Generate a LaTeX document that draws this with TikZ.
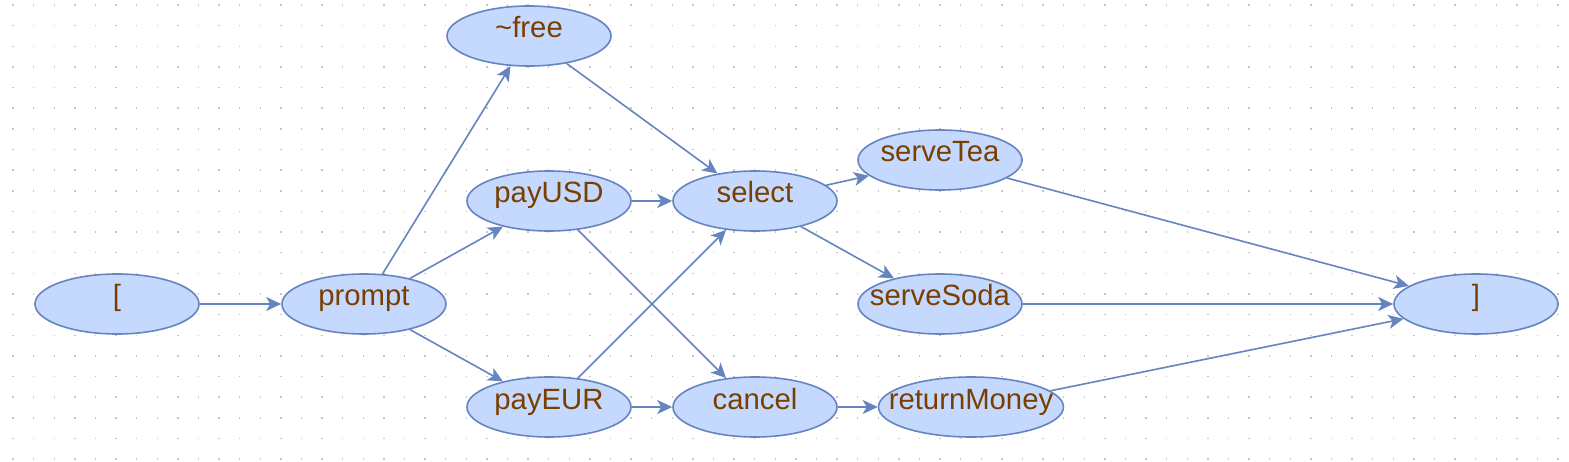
\documentclass[tikz,border=0pt]{standalone}
\usepackage{fontspec}
\setmainfont{Liberation Sans}
\usetikzlibrary{shapes.geometric,arrows.meta}
\definecolor{nodefill}{HTML}{C4D9FD}
\definecolor{nodeline}{HTML}{6584C0}
\definecolor{txt}{HTML}{7A3E00}
\definecolor{griddot}{HTML}{C4C4C4}
\newcommand{\lbl}[1]{\makebox[0pt][c]{#1}}
\tikzset{
  state/.style={ellipse, draw=nodeline, fill=nodefill, line width=1.6pt,
    inner sep=0pt, minimum width=164pt, minimum height=60pt,
    text height=16pt, text depth=12pt, text=txt,
    font=\fontsize{29.3}{34}\selectfont},
  wide/.style={minimum width=185pt},
  conn/.style={draw=nodeline, line width=1.6pt,
    -{Stealth[length=15pt,width=14pt,inset=4pt]}}
}
\begin{document}
\begin{tikzpicture}[x=1pt,y=-1pt]
\useasboundingbox (0,0) rectangle (1569,462);
\fill[white] (0,0) rectangle (1569,462);
\foreach \i in {0,...,75}{
  \foreach \j in {0,...,22}{
    \fill[griddot] ({12.3+\i*20.6},{4.3+\j*20.64}) rectangle +(1.5,1.5);
  }
}
\node[state] (start) at (117,304) {\lbl{[}};
\node[state] (prompt) at (364,304) {\lbl{prompt}};
\node[state] (free) at (529,36) {\lbl{\textasciitilde free}};
\node[state] (payUSD) at (549,201) {\lbl{payUSD}};
\node[state] (payEUR) at (549,407) {\lbl{payEUR}};
\node[state] (select) at (755,201) {\lbl{select}};
\node[state] (cancel) at (755,407) {\lbl{cancel}};
\node[state] (serveTea) at (940,160) {\lbl{serveTea}};
\node[state] (serveSoda) at (940,304) {\lbl{serveSoda}};
\node[state,wide] (returnMoney) at (971,407) {\lbl{returnMoney}};
\node[state] (end) at (1476,304) {\lbl{]}};
\draw[conn] (start) -- (prompt);
\draw[conn] (prompt) -- (free);
\draw[conn] (prompt) -- (payUSD);
\draw[conn] (prompt) -- (payEUR);
\draw[conn] (free) -- (select);
\draw[conn] (payUSD) -- (select);
\draw[conn] (payUSD) -- (cancel);
\draw[conn] (payEUR) -- (select);
\draw[conn] (payEUR) -- (cancel);
\draw[conn] (select) -- (serveTea);
\draw[conn] (select) -- (serveSoda);
\draw[conn] (cancel) -- (returnMoney);
\draw[conn] (serveTea) -- (end);
\draw[conn] (serveSoda) -- (end);
\draw[conn] (returnMoney) -- (end);
\end{tikzpicture}
\end{document}
